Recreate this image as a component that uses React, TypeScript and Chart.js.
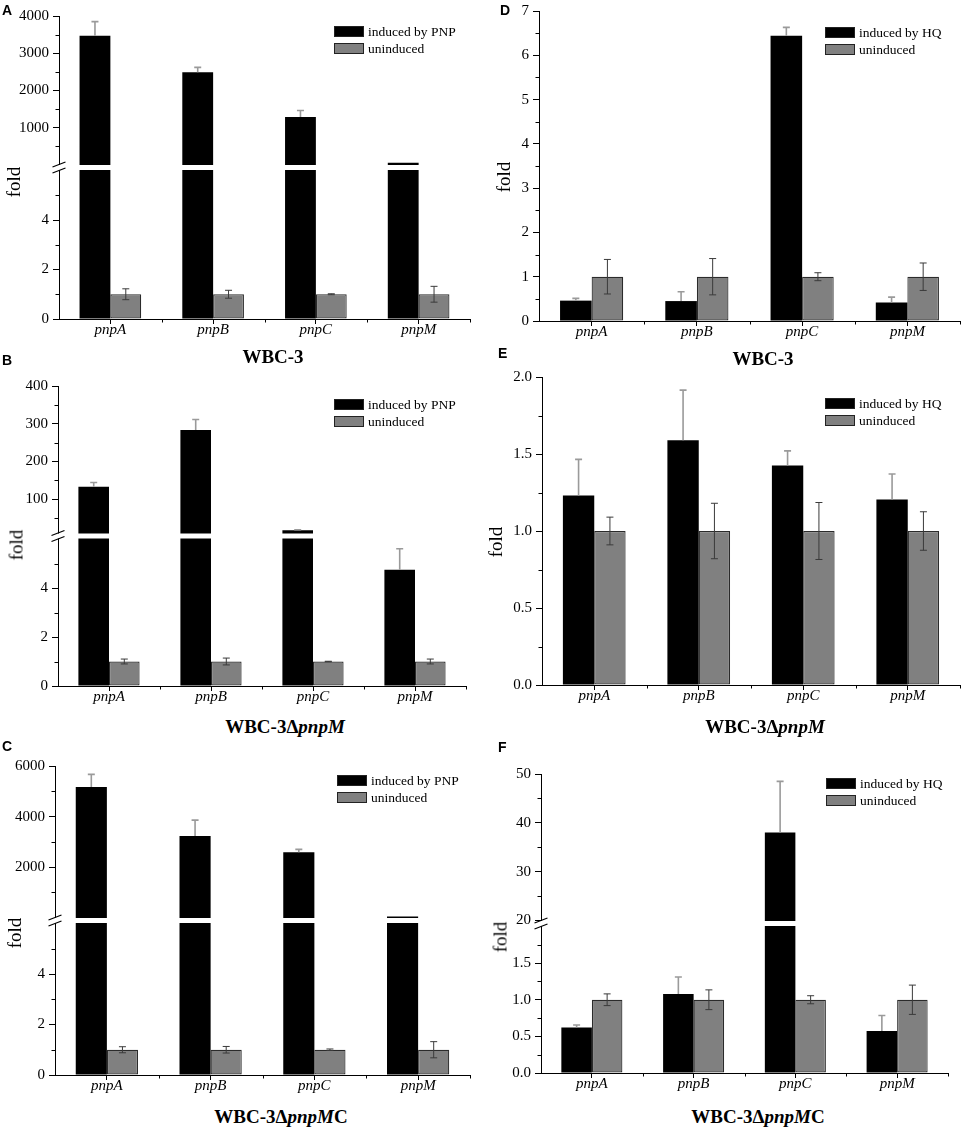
import React, { useEffect, useRef } from "react";
import { Chart, LinearScale, registerables } from "chart.js";

const genes = ["pnpA", "pnpB", "pnpC", "pnpM"];

// A: WBC-3, induced by PNP
const inducedA = [3470, 2490, 1285, 60];
const inducedErrA = [380, 130, 175, 0];
const uninducedA = [1, 1, 1, 1];
const uninducedErrA = [0.22, 0.16, 0.02, 0.32];
const breaksA = [0, 6, 10, 4000];
const ticksA = [0, 2, 4, 1000, 2000, 3000, 4000];
const minorA = [1, 3, 5, 500, 1500, 2500, 3500];

// B: WBC-3ΔpnpM, induced by PNP
const inducedB = [133, 283, 17, 4.75];
const inducedErrB = [11, 28, 1.5, 0.85];
const uninducedB = [1, 1, 1, 1];
const uninducedErrB = [0.1, 0.14, 0.01, 0.1];
const breaksB = [0, 6, 10, 400];
const ticksB = [0, 2, 4, 100, 200, 300, 400];
const minorB = [1, 3, 5, 50, 150, 250, 350];

// C: WBC-3ΔpnpMC, induced by PNP
const inducedC = [5170, 3230, 2590, 50];
const inducedErrC = [500, 630, 115, 0];
const uninducedC = [1, 1, 1, 1];
const uninducedErrC = [0.12, 0.13, 0.03, 0.32];
const breaksC = [0, 6, 10, 6000];
const ticksC = [0, 2, 4, 2000, 4000, 6000];
const minorC = [1, 3, 5, 1000, 3000, 5000];

// D: WBC-3, induced by HQ
const inducedD = [0.46, 0.45, 6.44, 0.42];
const inducedErrD = [0.05, 0.21, 0.19, 0.12];
const uninducedD = [1, 1, 1, 1];
const uninducedErrD = [0.39, 0.41, 0.09, 0.31];
const breaksD = [0, 7];
const ticksD = [0, 1, 2, 3, 4, 5, 6, 7];
const minorD = [0.5, 1.5, 2.5, 3.5, 4.5, 5.5, 6.5];

// E: WBC-3ΔpnpM, induced by HQ
const inducedE = [1.23, 1.59, 1.425, 1.205];
const inducedErrE = [0.235, 0.325, 0.095, 0.165];
const uninducedE = [1, 1, 1, 1];
const uninducedErrE = [0.09, 0.18, 0.185, 0.125];
const breaksE = [0, 2];
const ticksE = [0, 0.5, 1, 1.5, 2];
const minorE = [0.25, 0.75, 1.25, 1.75];

// F: WBC-3ΔpnpMC, induced by HQ
const inducedF = [0.62, 1.08, 38, 0.575];
const inducedErrF = [0.035, 0.23, 10.5, 0.21];
const uninducedF = [1, 1, 1, 1];
const uninducedErrF = [0.08, 0.135, 0.055, 0.2];
const breaksF = [0, 2, 20, 50];
const ticksF = [0, 0.5, 1, 1.5, 20, 30, 40, 50];
const minorF = [0.25, 0.75, 1.25, 1.75, 25, 35, 45];

const serif = "'Liberation Serif', 'Times New Roman', serif";
const sans = "'Liberation Sans', Arial, sans-serif";

// linear axis cut into equal-height pieces with a gap between them
class BrokenScale extends LinearScale {
    static id = "broken";
    static defaults = { ...(LinearScale as any).defaults };

    buildTicks() {
        const o: any = this.options;
        return (o.majorTicks as number[]).map((value) => ({ value }));
    }

    segments() {
        const o: any = this.options;
        const b = o.breaks as number[];
        const gap = o.gap as number;
        const n = b.length / 2;
        const h = (this.bottom - this.top - gap * (n - 1)) / n;
        const segs = [];
        for (let i = 0; i < n; i++) {
            const bottom = this.bottom - i * (h + gap);
            segs.push({ min: b[2 * i], max: b[2 * i + 1], bottom, top: bottom - h });
        }
        return segs;
    }

    getPixelForValue(value: number) {
        const segs = this.segments();
        const gap = (this.options as any).gap as number;
        for (let i = 0; i < segs.length; i++) {
            const s = segs[i];
            if (value <= s.max || i === segs.length - 1) {
                if (i > 0 && value < s.min) return s.bottom + gap / 2;
                return s.bottom - ((value - s.min) / (s.max - s.min)) * (s.bottom - s.top);
            }
        }
        return this.bottom;
    }

    getValueForPixel(pixel: number) {
        const segs = this.segments();
        for (const s of segs) {
            if (pixel >= s.top && pixel <= s.bottom) {
                return s.min + ((s.bottom - pixel) / (s.bottom - s.top)) * (s.max - s.min);
            }
        }
        return segs[0].min;
    }
}

Chart.register(...registerables, BrokenScale as any);

// error bars, axis breaks, minor ticks and the legend inside the plot
const extrasPlugin = {
    id: "extras",
    afterDatasetsDraw(chart: any, _args: any, opts: any) {
        const { ctx, chartArea: area } = chart;
        const x = chart.scales.x;
        const y = chart.scales.y;
        ctx.save();

        chart.data.datasets.forEach((ds: any, i: number) => {
            chart.getDatasetMeta(i).data.forEach((bar: any, j: number) => {
                const v = ds.data[j];
                const e = ds.errors[j];
                if (!e) return;
                const top = y.getPixelForValue(v + e);
                const bottom = y.getPixelForValue(ds.errBoth ? v - e : v);
                ctx.strokeStyle = ds.errColor;
                ctx.lineWidth = ds.errWidth;
                ctx.beginPath();
                ctx.moveTo(bar.x, top);
                ctx.lineTo(bar.x, bottom);
                ctx.moveTo(bar.x - 3.5, top);
                ctx.lineTo(bar.x + 3.5, top);
                if (ds.errBoth) {
                    ctx.moveTo(bar.x - 3.5, bottom);
                    ctx.lineTo(bar.x + 3.5, bottom);
                }
                ctx.stroke();
            });
        });

        const segs = y.segments();
        for (let i = 1; i < segs.length; i++) {
            const g0 = segs[i].bottom;
            const g1 = segs[i - 1].top;
            ctx.fillStyle = "#fff";
            ctx.fillRect(area.left - 2, g0 + 0.5, area.right - area.left + 2, g1 - g0 - 1);
            ctx.strokeStyle = "#000";
            ctx.lineWidth = 1.2;
            ctx.beginPath();
            for (const g of [g0, g1]) {
                ctx.moveTo(area.left - 6.5, g + 2.5);
                ctx.lineTo(area.left + 6.5, g - 2.5);
            }
            ctx.stroke();
        }

        ctx.strokeStyle = "#000";
        ctx.lineWidth = 1;
        ctx.beginPath();
        for (const m of opts.minor) {
            const py = Math.round(y.getPixelForValue(m)) + 0.5;
            ctx.moveTo(area.left - 3.5, py);
            ctx.lineTo(area.left, py);
        }
        for (let k = 0; k < chart.data.labels.length; k++) {
            const px = Math.round(x.getPixelForValue(k + 0.5)) + 0.5;
            ctx.moveTo(px, area.bottom);
            ctx.lineTo(px, area.bottom + 3.5);
        }
        ctx.stroke();

        const [dx, dy] = opts.legendAt;
        const bx = Math.round(area.right - dx);
        let by = Math.round(area.top + dy);
        ctx.font = `13.5px ${serif}`;
        ctx.textBaseline = "middle";
        ctx.textAlign = "left";
        chart.data.datasets.forEach((ds: any) => {
            ctx.fillStyle = ds.backgroundColor;
            ctx.fillRect(bx, by, 30, 11);
            ctx.strokeStyle = "#222";
            ctx.strokeRect(bx + 0.5, by + 0.5, 29, 10);
            ctx.fillStyle = "#000";
            ctx.fillText(ds.label, bx + 34, by + 6);
            by += 17;
        });
        ctx.restore();
    },
};

const int = (v: number) => v.toFixed(0);

const panels = [
    {
        letter: "A", letterAt: [2, 15], area: [59, 15, 470, 319],
        induced: inducedA, inducedErr: inducedErrA, uninduced: uninducedA, uninducedErr: uninducedErrA,
        inducer: "PNP", breaks: breaksA, ticks: ticksA, minor: minorA, fmt: int,
        legendAt: [136, 10], title: <>WBC-3</>, titleAt: [273, 363], foldAt: [13, 182],
    },
    {
        letter: "B", letterAt: [2, 365], area: [58, 385, 466, 686],
        induced: inducedB, inducedErr: inducedErrB, uninduced: uninducedB, uninducedErr: uninducedErrB,
        inducer: "PNP", breaks: breaksB, ticks: ticksB, minor: minorB, fmt: int,
        legendAt: [132, 13], title: <>WBC-3Δ<i>pnpM</i></>, titleAt: [285, 733], foldAt: [16, 545],
    },
    {
        letter: "C", letterAt: [2, 751], area: [55, 765, 470, 1075],
        induced: inducedC, inducedErr: inducedErrC, uninduced: uninducedC, uninducedErr: uninducedErrC,
        inducer: "PNP", breaks: breaksC, ticks: ticksC, minor: minorC, fmt: int,
        legendAt: [133, 9], title: <>WBC-3Δ<i>pnpM</i>C</>, titleAt: [281, 1123], foldAt: [14, 933],
    },
    {
        letter: "D", letterAt: [500, 15], area: [539, 10, 960, 321],
        induced: inducedD, inducedErr: inducedErrD, uninduced: uninducedD, uninducedErr: uninducedErrD,
        inducer: "HQ", breaks: breaksD, ticks: ticksD, minor: minorD, fmt: int,
        legendAt: [135, 16], title: <>WBC-3</>, titleAt: [763, 365], foldAt: [503, 177],
    },
    {
        letter: "E", letterAt: [498, 358], area: [542, 376, 960, 685],
        induced: inducedE, inducedErr: inducedErrE, uninduced: uninducedE, uninducedErr: uninducedErrE,
        inducer: "HQ", breaks: breaksE, ticks: ticksE, minor: minorE, fmt: (v: number) => v.toFixed(1),
        legendAt: [135, 21], title: <>WBC-3Δ<i>pnpM</i></>, titleAt: [765, 733], foldAt: [495, 542],
    },
    {
        letter: "F", letterAt: [498, 752], area: [541, 773, 948, 1073],
        induced: inducedF, inducedErr: inducedErrF, uninduced: uninducedF, uninducedErr: uninducedErrF,
        inducer: "HQ", breaks: breaksF, ticks: ticksF, minor: minorF,
        fmt: (v: number) => (v < 10 ? v.toFixed(1) : v.toFixed(0)),
        legendAt: [122, 4], title: <>WBC-3Δ<i>pnpM</i>C</>, titleAt: [758, 1123], foldAt: [500, 937],
    },
];

type PanelCfg = (typeof panels)[number];

const Y_W = 56;
const X_H = 30;
const PAD_T = 12;
const PAD_R = 4;

function BarPanel({ cfg }: { cfg: PanelCfg }) {
    const canvas = useRef<HTMLCanvasElement>(null);
    const [l, t, r, b] = cfg.area;
    const w = r - l + Y_W + PAD_R;
    const h = b - t + PAD_T + X_H;

    useEffect(() => {
        const chart = new Chart(canvas.current!, {
            type: "bar",
            data: {
                labels: genes,
                datasets: [
                    {
                        label: "induced by " + cfg.inducer,
                        data: cfg.induced,
                        backgroundColor: "#000",
                        borderWidth: 0,
                        categoryPercentage: 0.6,
                        barPercentage: 1,
                        errors: cfg.inducedErr,
                        errBoth: false,
                        errColor: "#9a9a9a",
                        errWidth: 1.6,
                    } as any,
                    {
                        label: "uninduced",
                        data: cfg.uninduced,
                        backgroundColor: "#808080",
                        borderColor: "#2b2b2b",
                        borderWidth: 1.2,
                        borderSkipped: false,
                        categoryPercentage: 0.6,
                        barPercentage: 1,
                        errors: cfg.uninducedErr,
                        errBoth: true,
                        errColor: "#3a3a3a",
                        errWidth: 1,
                    } as any,
                ],
            },
            options: {
                responsive: false,
                animation: false,
                events: [],
                layout: { padding: { left: 0, top: PAD_T, right: PAD_R, bottom: 0 } },
                plugins: {
                    legend: { display: false },
                    tooltip: { enabled: false },
                    extras: { legendAt: cfg.legendAt, minor: cfg.minor },
                } as any,
                scales: {
                    x: {
                        type: "category",
                        offset: true,
                        afterFit: (s: any) => {
                            s.height = X_H;
                        },
                        grid: { offset: false, drawOnChartArea: false, tickLength: 5, color: "#000" },
                        border: { display: true, color: "#000", width: 1 },
                        ticks: {
                            padding: -3,
                            color: "#000",
                            maxRotation: 0,
                            autoSkip: false,
                            font: { family: serif, size: 15, style: "italic" },
                        },
                    },
                    y: {
                        type: "broken",
                        min: cfg.breaks[0],
                        max: cfg.breaks[cfg.breaks.length - 1],
                        breaks: cfg.breaks,
                        gap: 6,
                        majorTicks: cfg.ticks,
                        afterFit: (s: any) => {
                            s.width = Y_W;
                        },
                        grid: { drawOnChartArea: false, tickLength: 6, color: "#000" },
                        border: { display: true, color: "#000", width: 1 },
                        ticks: {
                            autoSkip: false,
                            padding: 4,
                            color: "#000",
                            font: { family: serif, size: 15 },
                            callback: (v: any) => cfg.fmt(Number(v)),
                        },
                    } as any,
                },
            },
            plugins: [extrasPlugin as any],
        });
        return () => {
            chart.destroy();
        };
    }, [cfg]);

    return (
        <>
            <canvas
                ref={canvas}
                width={w}
                height={h}
                style={{ position: "absolute", left: l - Y_W, top: t - PAD_T, width: w, height: h }}
            ></canvas>
            <div
                style={{
                    position: "absolute",
                    left: cfg.letterAt[0],
                    top: cfg.letterAt[1] - 0.8465 * 14,
                    font: `bold 14px/14px ${sans}`,
                }}
            >
                {cfg.letter}
            </div>
            <div
                style={{
                    position: "absolute",
                    left: cfg.titleAt[0],
                    top: cfg.titleAt[1] - 0.8375 * 19,
                    transform: "translateX(-50%)",
                    whiteSpace: "nowrap",
                    font: `bold 19px/19px ${serif}`,
                }}
            >
                {cfg.title}
            </div>
            <div
                style={{
                    position: "absolute",
                    left: cfg.foldAt[0],
                    top: cfg.foldAt[1],
                    transform: "translate(-50%, -50%) rotate(-90deg)",
                    whiteSpace: "nowrap",
                    font: `19px/19px ${serif}`,
                }}
            >
                fold
            </div>
        </>
    );
}

export default function App() {
    return (
        <div
            style={{
                position: "absolute",
                left: 0,
                top: 0,
                width: 964,
                height: 1130,
                background: "#fff",
                overflow: "hidden",
            }}
        >
            {panels.map((p) => (
                <BarPanel key={p.letter} cfg={p} />
            ))}
        </div>
    );
}
